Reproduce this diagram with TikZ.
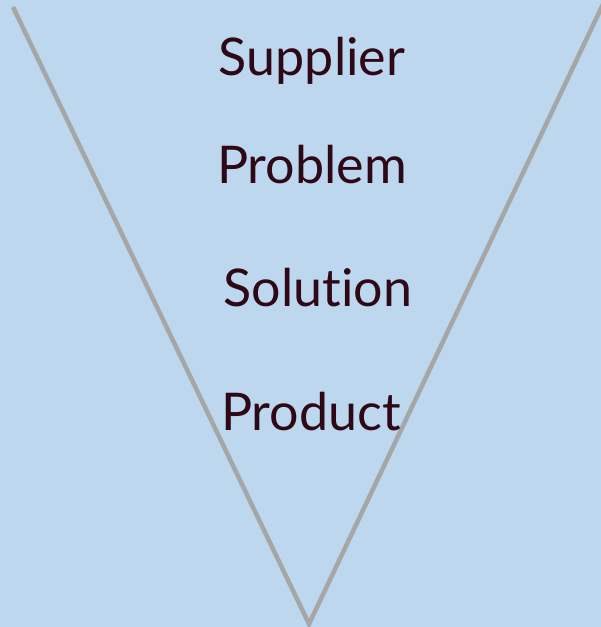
\documentclass[tikz,border=0pt]{standalone}
\usepackage{fontspec}
\setmainfont{Lato}[Ligatures=NoCommon]
\usepackage{xcolor}
\usetikzlibrary{positioning}

\definecolor{funnelbg}{RGB}{189,215,238}
\definecolor{funnelline}{RGB}{166,166,166}
\definecolor{stagetext}{RGB}{46,8,22}

\begin{document}
\begin{tikzpicture}[
        x=1pt, y=-1pt,
        stage/.style={anchor=base, text=stagetext, font=\fontsize{52}{52}\selectfont, inner sep=0pt},
        edge/.style={draw=funnelline, line width=4.5pt},
    ]
        \fill[funnelbg] (0,0) rectangle (601,627);
        \useasboundingbox (0,0) rectangle (601,627);

        \coordinate (lefttop) at (13,7);
        \coordinate (apex) at (309,624);
        \coordinate (righttop) at (605,0);
        \begin{scope}
            \clip (0,0) rectangle (601,627);
            \draw[edge] (lefttop) -- (apex) -- (righttop);
        \end{scope}

        \node[stage] (supplier) at (312,75) {Supplier};
        \node[stage] (problem) at (312,183) {Problem};
        \node[stage] (solution) at (318,306) {Solution};
        \node[stage] (product) at (311,430) {Product};
    \end{tikzpicture}
\end{document}
